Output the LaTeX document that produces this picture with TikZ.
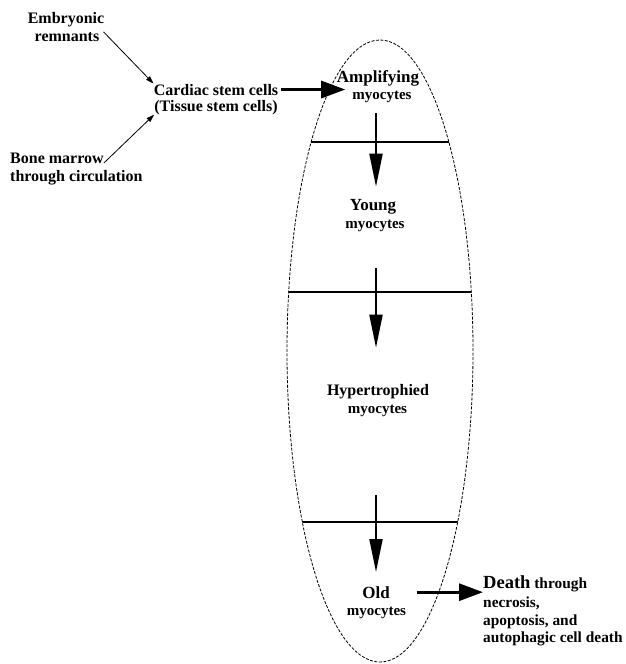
\documentclass[tikz,border=0pt]{standalone}
\usepackage{fontspec}
\setmainfont{Liberation Serif}
\usetikzlibrary{arrows.meta,calc}

\begin{document}
\begin{tikzpicture}[x=1pt,y=-1pt,
  txt/.style={inner sep=0pt,font=\bfseries\fontsize{16}{18}\selectfont},
  fate/.style={inner sep=0pt,font=\bfseries\fontsize{15.4}{17}\selectfont},
  stage/.style={inner sep=0pt,font=\bfseries\fontsize{17}{19}\selectfont},
  myo/.style={inner sep=0pt,font=\bfseries\fontsize{15}{17}\selectfont},
  feed/.style={line width=0.8pt,-{Triangle[length=8pt,width=5pt]}},
  flow/.style={line width=2pt,-{Triangle[length=33pt,width=13pt]}},
  push/.style={line width=3pt,-{Triangle[length=24pt,width=17pt]}},
  band/.style={line width=2pt}]
\useasboundingbox (0,0) rectangle (626,664);
% where cells come from
\node[txt,anchor=base] (embA) at (66,23) {Embryonic};
\node[txt,anchor=base] (embB) at (67,41) {remnants};
\node[txt,anchor=base] (cardA) at (216,95) {Cardiac stem cells};
\node[txt,anchor=base] (cardB) at (216,111) {(Tissue stem cells)};
\node[txt,anchor=base west] (boneA) at (10,163) {Bone marrow};
\node[txt,anchor=base west] (boneB) at (10,181) {through circulation};
% the life span
\draw[line width=0.8pt,dash pattern=on 3pt off 1.5pt] (380,351) ellipse [x radius=93pt, y radius=311pt];
\begin{scope}
\clip (380,351) ellipse [x radius=93pt, y radius=311pt];
\draw[band] (270,142) -- (490,142);
\draw[band] (270,292) -- (490,292);
\draw[band] (270,522) -- (490,522);
\end{scope}
\coordinate (axis) at (376,0);
\node[stage,anchor=base] (amp) at (378,82) {Amplifying};
\node[myo,anchor=base] (ampB) at (382,99) {myocytes};
\node[stage,anchor=base] (young) at (373,210) {Young};
\node[myo,anchor=base] (youngB) at (375,228) {myocytes};
\node[txt,anchor=base] (hyper) at (378,395) {Hypertrophied};
\node[myo,anchor=base] (hyperB) at (377.5,413) {myocytes};
\node[stage,anchor=base] (old) at (376,598) {Old};
\node[myo,anchor=base] (oldB) at (376.5,615) {myocytes};
% fate
\node[fate,anchor=base west] (deathA) at (483,588) {{\fontsize{18.5}{20}\selectfont Death} through};
\node[fate,anchor=base west] (deathB) at (483,607) {necrosis,};
\node[fate,anchor=base west] (deathC) at (483,625) {apoptosis, and};
\node[fate,anchor=base west] (deathD) at (483,642) {autophagic cell death};
% arrows
\draw[feed] ($(embB.north east)+(4,0)$) -- (cardA.north west);
\draw[feed] (boneA.base east) -- (cardB.south west);
\draw[push] ($(cardA.east)+(3,0)$) -- ($(cardA.east -| ampB.west)+(-7,0)$);
\draw[flow] ($(ampB.south -| axis)+(0,11)$) -- ($(young.north -| axis)+(0,-12)$);
\draw[flow] ($(youngB.south -| axis)+(0,37)$) -- ($(hyper.north -| axis)+(0,-36)$);
\draw[flow] ($(hyperB.south -| axis)+(0,79)$) -- ($(old.north -| axis)+(0,-14)$);
\draw[push] ($(old.east)+(27,0)$) -- (old.east -| deathA.west);
\end{tikzpicture}
\end{document}
